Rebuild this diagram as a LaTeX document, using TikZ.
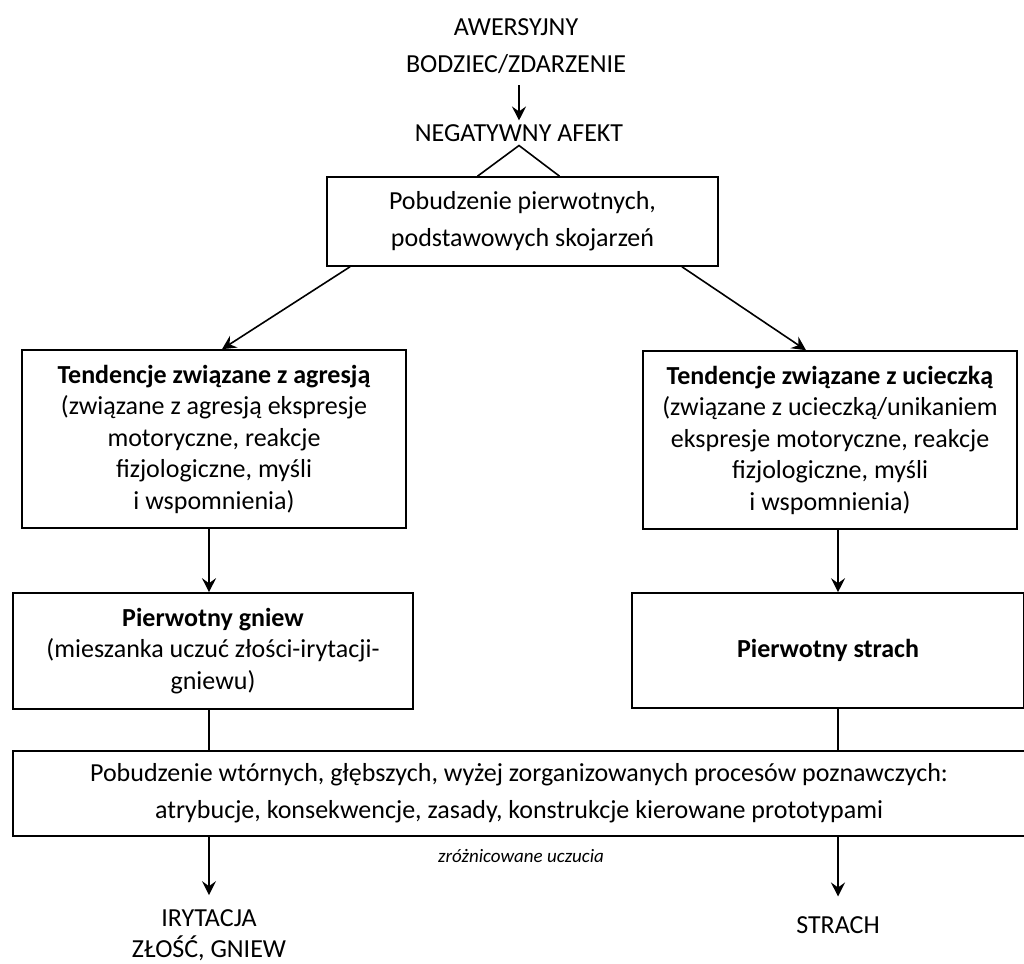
\documentclass[tikz,border=0pt]{standalone}
\usepackage{fontspec}
\setmainfont{Carlito}
\usetikzlibrary{arrows.meta, calc}
\tikzset{
    box/.style={draw, align=center, inner sep=0pt},
    plain/.style={align=center, inner sep=0pt, outer sep=4pt},
    flow/.style={-{Stealth[length=14pt, width=14pt, inset=5pt]}},
    big/.style={font=\fontsize{26}{37}\selectfont},
    tight/.style={font=\fontsize{26}{31.5}\selectfont}
}

\begin{document}
\begin{tikzpicture}[x=1pt, y=-1pt, line width=1.6pt]
    \useasboundingbox (0,0) rectangle (1024,963);
    % top part
    \node[plain, big] (bodziec) at (516,46) {AWERSYJNY\\BODZIEC/ZDARZENIE};
    \node[plain, big] (afekt) at (519,133) {NEGATYWNY AFEKT};
    \draw[flow] ([yshift=-8]bodziec.south -| afekt.north) -- (afekt.north);
    \node[box, big, minimum width=391, minimum height=89] (pierw) at (522.5,221.5) {Pobudzenie pierwotnych,\\podstawowych skojarzeń};
    \draw ([xshift=-45]pierw.north) -- (afekt.south) -- ([xshift=37]pierw.north);
    % two tendencies
    \node[box, tight, minimum width=384, minimum height=178] (agresja) at (214,439) {\textbf{Tendencje związane z agresją}\\(związane z agresją ekspresje\\motoryczne, reakcje\\fizjologiczne, myśli\\i wspomnienia)};
    \node[box, tight, minimum width=374, minimum height=178] (ucieczka) at (830,440) {\textbf{Tendencje związane z ucieczką}\\(związane z ucieczką/unikaniem\\ekspresje motoryczne, reakcje\\fizjologiczne, myśli\\i wspomnienia)};
    \draw[flow] ([xshift=-172.5]pierw.south) -- ([xshift=8]agresja.north);
    \draw[flow] ([xshift=159.5]pierw.south) -- ([xshift=-24]ucieczka.north);
    % primary emotions
    \node[box, tight, minimum width=400, minimum height=116] (gniew) at (213,651) {\textbf{Pierwotny gniew}\\(mieszanka uczuć złości-irytacji-\\gniewu)};
    \node[box, tight, minimum width=392, minimum height=115] (strach) at (828,650.5) {\textbf{Pierwotny strach}};
    \draw[flow] ([xshift=-5]agresja.south) -- ([xshift=-4]gniew.north);
    \draw[flow] ([xshift=8]ucieczka.south) -- ([xshift=10]strach.north);
    % secondary processes
    \node[box, big, minimum width=1012, minimum height=85] (wtorne) at (519,793.5) {Pobudzenie wtórnych, głębszych, wyżej zorganizowanych procesów poznawczych:\\atrybucje, konsekwencje, zasady, konstrukcje kierowane prototypami};
    \draw ([xshift=-4]gniew.south) -- ([xshift=-310]wtorne.north);
    \draw ([xshift=10]strach.south) -- ([xshift=319]wtorne.north);
    % differentiated feelings
    \node[plain, font=\fontsize{19}{22}\itshape] (uczucia) at (521,856) {zróżnicowane uczucia};
    \node[plain, tight] (irytacja) at (209,935) {IRYTACJA\\ZŁOŚĆ, GNIEW};
    \node[plain, big] (strachend) at (838,925) {STRACH};
    \draw[flow] ([xshift=-310]wtorne.south) -- ([yshift=10]irytacja.north);
    \draw[flow] ([xshift=319]wtorne.south) -- ([yshift=16]strachend.north);
\end{tikzpicture}
\end{document}
